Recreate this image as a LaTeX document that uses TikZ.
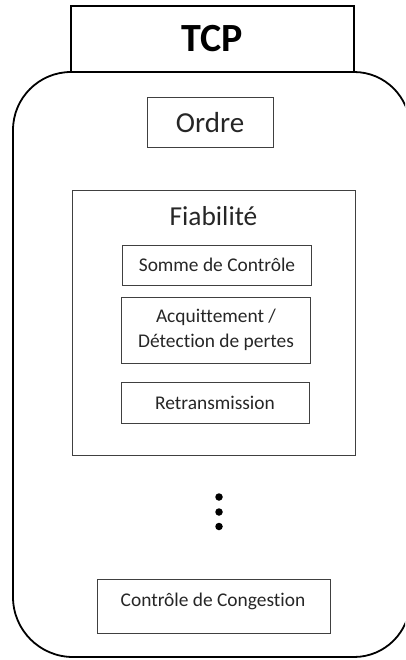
\documentclass[tikz,border=0pt]{standalone}
\usepackage{fontspec}
\setmainfont[Ligatures=NoCommon]{Carlito}
\begin{document}
\begin{tikzpicture}[x=1pt,y=-1pt,
  outerline/.style={line width=1.8pt,draw=black},
  innerbox/.style={draw=black!75,line width=1pt,rectangle,inner sep=0pt},
  lbl/.style={text=black!85,inner sep=0pt,font=\fontsize{19.4}{25}\selectfont,align=center},
  dotmark/.style={circle,fill=black,inner sep=0pt,minimum size=7.5pt}]
\useasboundingbox (0,0) rectangle (405,660);
\begin{scope}
\clip (0,0) rectangle (405,660);
\draw[outerline] (71,72) -- (354,72) arc[start angle=-90,end angle=0,radius=56]
  -- (410,601) arc[start angle=0,end angle=90,radius=56]
  -- (73,657) arc[start angle=90,end angle=180,radius=60]
  -- (13,130) arc[start angle=180,end angle=270,radius=58] -- cycle;
\end{scope}
\node[draw=black,line width=1.8pt,minimum width=283pt,minimum height=66pt,inner sep=0pt,
  font=\fontsize{40}{48}\selectfont\bfseries] (tcp) at (212.5,39) {TCP};
\node[innerbox,minimum width=126pt,minimum height=50pt,font=\fontsize{29}{34}\selectfont,text=black!85] (ordre) at (210,123) {Ordre};
\node[innerbox,minimum width=283pt,minimum height=264pt] (fiab) at (213.5,323) {};
\node[text=black!85,inner sep=0pt,font=\fontsize{27.4}{32}\selectfont] (fiablbl) at (213.5,216) {Fiabilité};
\node[innerbox,minimum width=189pt,minimum height=40pt,lbl] (somme) at (217,265) {Somme de Contrôle};
\node[innerbox,minimum width=189pt,minimum height=66pt,lbl] (acq) at (216,330) {Acquittement /\\Détection de pertes};
\node[innerbox,minimum width=188pt,minimum height=41pt,lbl] (retr) at (215,402.5) {Retransmission};
\node[dotmark] (d1) at (219,497) {};
\node[dotmark] (d2) at (219,512) {};
\node[dotmark] (d3) at (219,526.5) {};
\node[innerbox,minimum width=233pt,minimum height=54pt] (cong) at (213.5,606) {};
\node[lbl] (conglbl) at (213,601) {Contrôle de Congestion};
\end{tikzpicture}
\end{document}
